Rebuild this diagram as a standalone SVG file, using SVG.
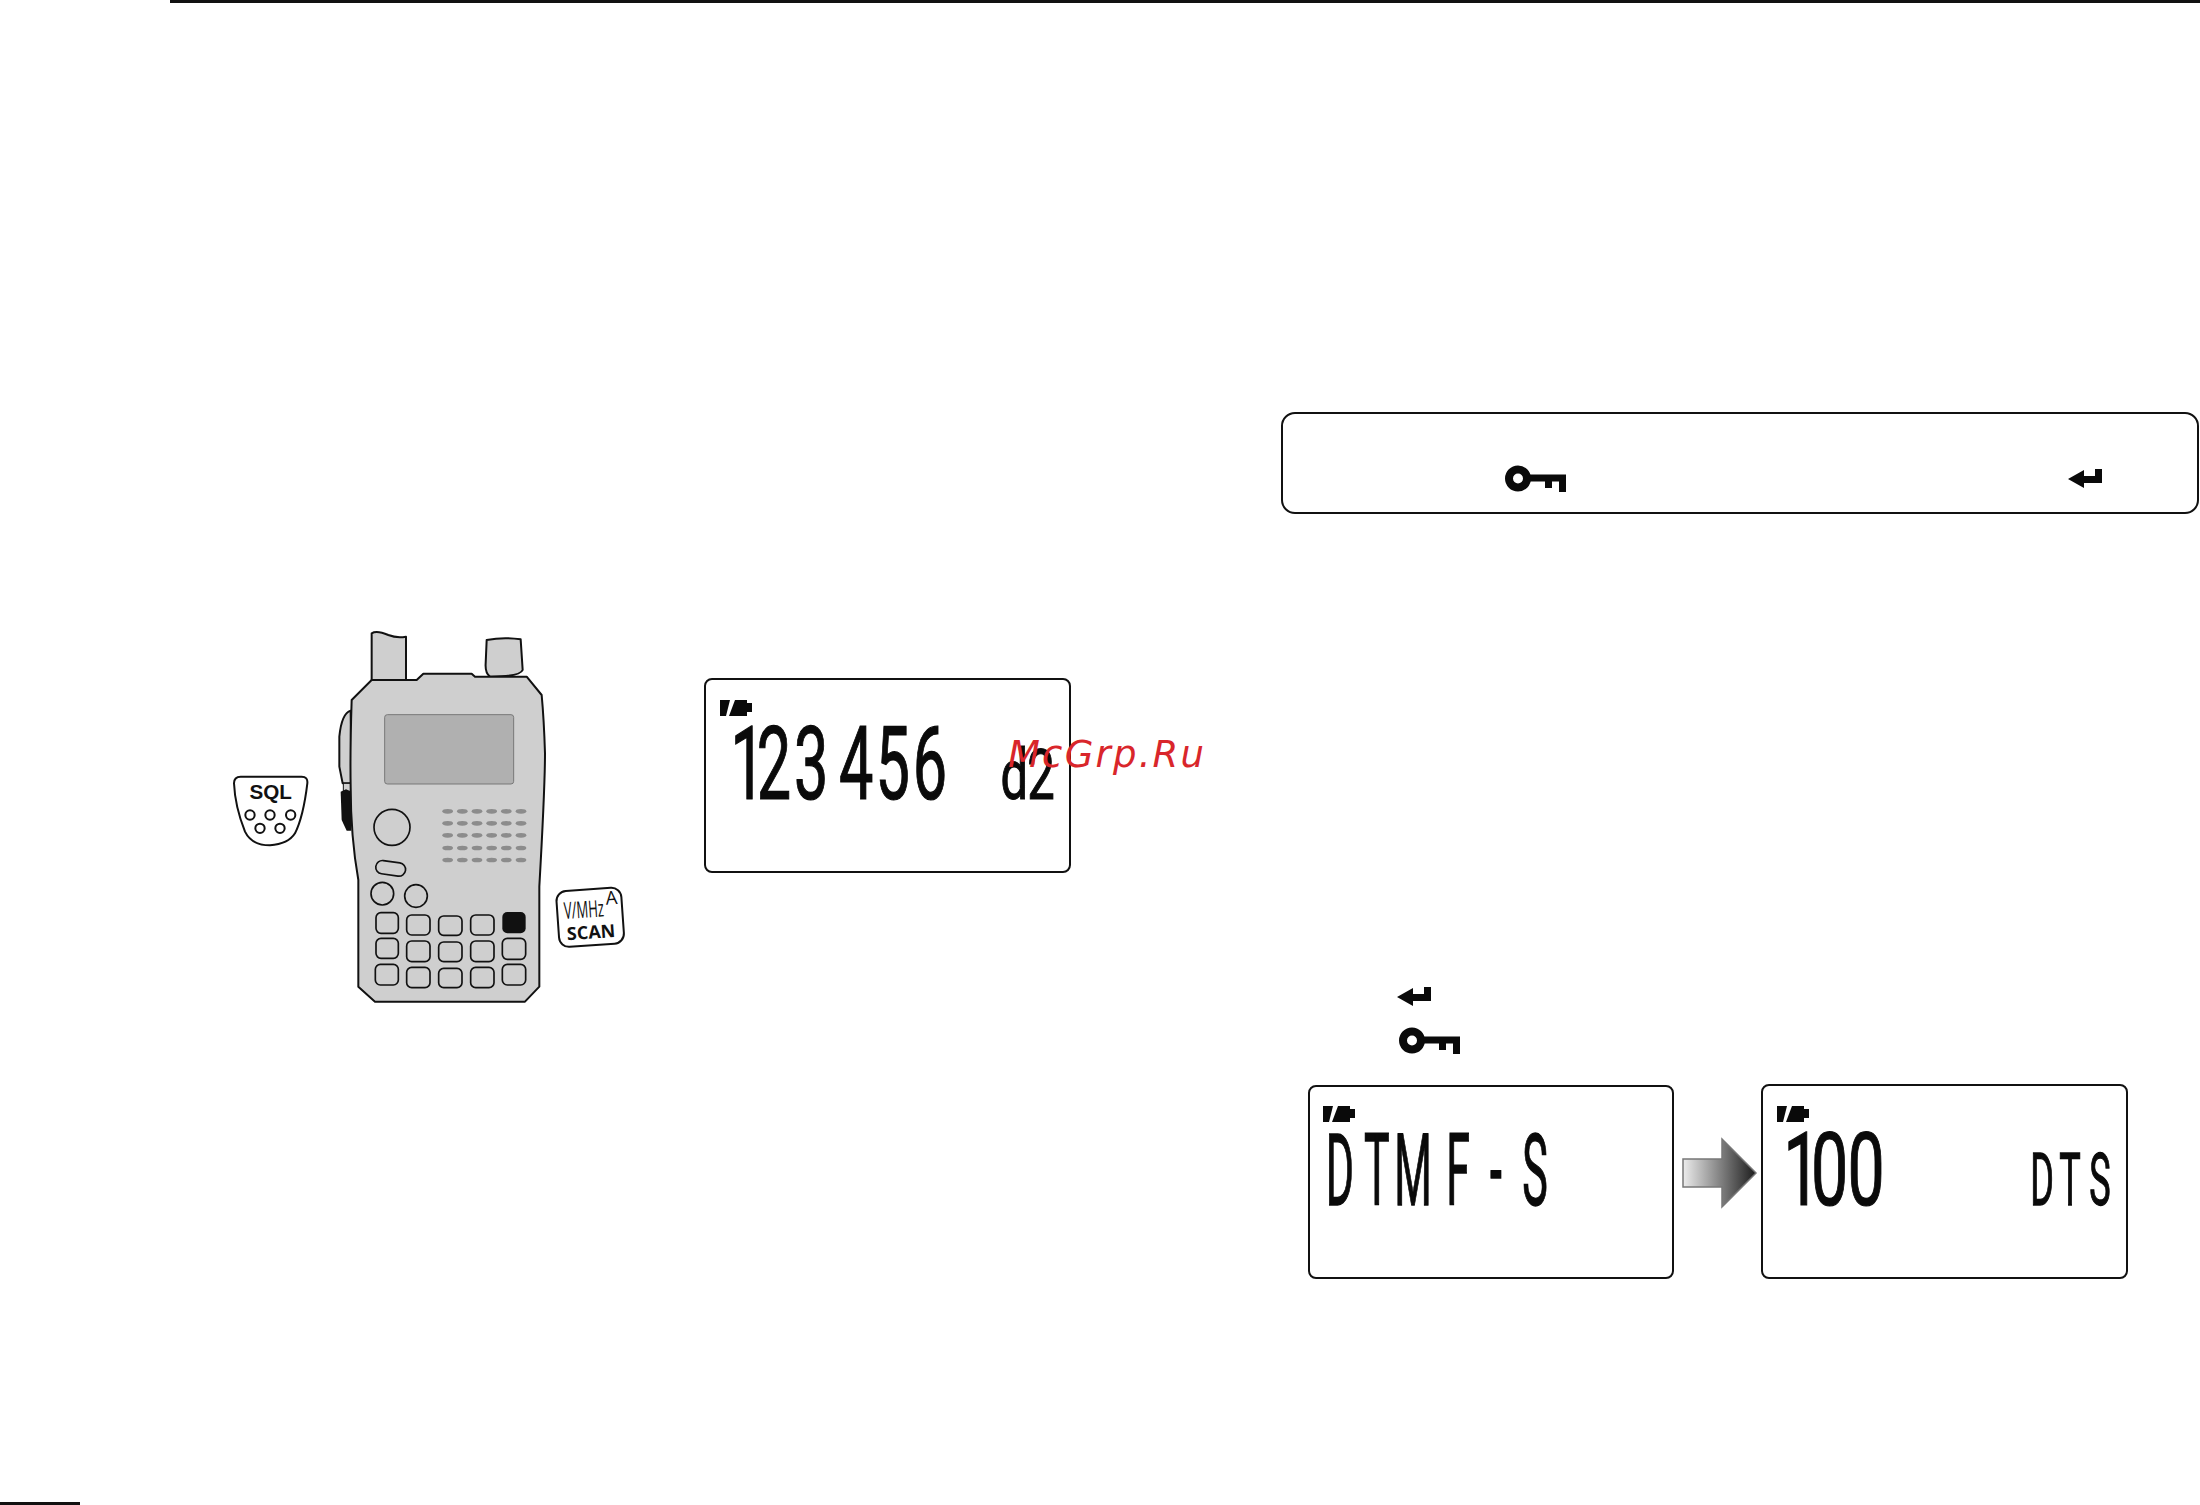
<svg xmlns="http://www.w3.org/2000/svg" width="2200" height="1505" viewBox="0 0 2200 1505">
<style>
.box{fill:#fff;stroke:#111;stroke-width:2}
.lcd{font-family:Roboto,"Liberation Sans",Arial,sans-serif;fill:#0a0a0a;stroke:#0a0a0a;stroke-width:1;vector-effect:non-scaling-stroke;text-anchor:middle}
.ln{fill:#cfcfcf;stroke:#111;stroke-width:6;stroke-linejoin:round}
.key{fill:none;stroke:#111;stroke-width:5}
.sp{fill:#8c8c8c}
.lab{font-family:"Liberation Sans",Arial,sans-serif;fill:#111}
</style>
<defs>
<g id="batt"><polygon points="0,0 10,0 6,16 0,16" fill="#0a0a0a"/><polygon points="15,0 27,0 27,3 32,3 32,12 27,12 27,16 9,16" fill="#0a0a0a"/></g>
<g id="keyicon" fill="#0a0a0a"><circle cx="13" cy="13.5" r="9" fill="none" stroke="#0a0a0a" stroke-width="8"/><rect x="22" y="9.5" width="39" height="7"/><rect x="40" y="16" width="7" height="7"/><rect x="54" y="16" width="7" height="11"/></g>
<polygon id="ret" points="0,10 16,1 16,7 27,7 27,0 34,0 34,14 16,14 16,19" fill="#0a0a0a"/>
<linearGradient id="ag" x1="0" x2="1" y1="0" y2="0"><stop offset="0" stop-color="#ececec"/><stop offset="1" stop-color="#1c1c1c"/></linearGradient>
</defs>
<rect width="2200" height="1505" fill="#fff"/>
<g id="page-rules"><rect x="170" y="0" width="2030" height="3" fill="#111"/><rect x="0" y="1502" width="80" height="3" fill="#111"/></g>

<g id="radio" transform="translate(220 620) scale(.33333)">
<path class="ln" d="M455 180V40Q470 30 505 45Q530 55 558 50V180Z"/>
<path class="ln" d="M800 60Q850 50 902 58L908 150Q900 170 810 170Q795 160 797 130Z"/>
<path class="ln" d="M392 272Q365 280 358 350V440L368 490H394Z"/>
<rect x="370" y="490" width="24" height="24" fill="#cfcfcf" stroke="#111" stroke-width="3"/>
<path d="M362 515L378 508L394 515V632H380L365 600Z" fill="#111"/>
<path class="ln" d="M455 180L395 240Q390 400 392 500Q392 650 415 780V1100L465 1145H915L958 1100V800Q975 500 975 400Q972 300 965 225L920 170H765L755 161H610L590 180Z"/>
<rect x="494" y="284" width="387" height="208" rx="8" fill="#b0b0b0" stroke="#777" stroke-width="3"/>
<g class="sp">
<ellipse cx="683" cy="574" rx="16" ry="7"/><ellipse cx="727" cy="574" rx="16" ry="7"/><ellipse cx="771" cy="574" rx="16" ry="7"/><ellipse cx="815" cy="574" rx="16" ry="7"/><ellipse cx="859" cy="574" rx="16" ry="7"/><ellipse cx="903" cy="574" rx="16" ry="7"/>
<ellipse cx="683" cy="610" rx="16" ry="7"/><ellipse cx="727" cy="610" rx="16" ry="7"/><ellipse cx="771" cy="610" rx="16" ry="7"/><ellipse cx="815" cy="610" rx="16" ry="7"/><ellipse cx="859" cy="610" rx="16" ry="7"/><ellipse cx="903" cy="610" rx="16" ry="7"/>
<ellipse cx="683" cy="646" rx="16" ry="7"/><ellipse cx="727" cy="646" rx="16" ry="7"/><ellipse cx="771" cy="646" rx="16" ry="7"/><ellipse cx="815" cy="646" rx="16" ry="7"/><ellipse cx="859" cy="646" rx="16" ry="7"/><ellipse cx="903" cy="646" rx="16" ry="7"/>
<ellipse cx="683" cy="684" rx="16" ry="7"/><ellipse cx="727" cy="684" rx="16" ry="7"/><ellipse cx="771" cy="684" rx="16" ry="7"/><ellipse cx="815" cy="684" rx="16" ry="7"/><ellipse cx="859" cy="684" rx="16" ry="7"/><ellipse cx="903" cy="684" rx="16" ry="7"/>
<ellipse cx="683" cy="720" rx="16" ry="7"/><ellipse cx="727" cy="720" rx="16" ry="7"/><ellipse cx="771" cy="720" rx="16" ry="7"/><ellipse cx="815" cy="720" rx="16" ry="7"/><ellipse cx="859" cy="720" rx="16" ry="7"/><ellipse cx="903" cy="720" rx="16" ry="7"/>
</g>
<circle class="key" cx="516" cy="622" r="54"/>
<rect class="key" x="467" y="725" width="90" height="40" rx="20" transform="rotate(8 512 745)"/>
<circle class="key" cx="487" cy="821" r="34"/><circle class="key" cx="588" cy="828" r="34"/>
<rect class="key" x="468" y="878" width="67" height="62" rx="15"/><rect class="key" x="560" y="885" width="70" height="60" rx="15"/><rect class="key" x="656" y="888" width="70" height="58" rx="15"/><rect class="key" x="752" y="885" width="70" height="60" rx="15"/><rect x="847" y="876" width="70" height="64" rx="15" fill="#111"/>
<rect class="key" x="468" y="955" width="67" height="60" rx="15"/><rect class="key" x="560" y="963" width="70" height="62" rx="15"/><rect class="key" x="656" y="966" width="70" height="59" rx="15"/><rect class="key" x="752" y="963" width="70" height="62" rx="15"/><rect class="key" x="847" y="955" width="70" height="63" rx="15"/>
<rect class="key" x="466" y="1033" width="69" height="62" rx="15"/><rect class="key" x="560" y="1042" width="70" height="61" rx="15"/><rect class="key" x="656" y="1045" width="70" height="58" rx="15"/><rect class="key" x="752" y="1042" width="70" height="61" rx="15"/><rect class="key" x="847" y="1033" width="70" height="62" rx="15"/>
</g>

<g id="sql-key" transform="translate(220 620) scale(.33333)">
<path d="M42 490Q42 470 62 470H245Q264 470 262 490Q250 590 225 640Q205 672 150 676Q95 676 75 635Q45 560 42 490Z" fill="#fff" stroke="#111" stroke-width="6"/>
<text class="lab" x="152" y="538" font-size="62" font-weight="700" text-anchor="middle">SQL</text>
<g fill="none" stroke="#111" stroke-width="6"><circle cx="90" cy="585" r="14"/><circle cx="150" cy="585" r="14"/><circle cx="212" cy="585" r="14"/><circle cx="120" cy="625" r="14"/><circle cx="180" cy="625" r="14"/></g>
</g>

<g id="scan-key" transform="translate(220 620) scale(.33333)">
<rect x="1013" y="808" width="195" height="168" rx="30" fill="#fff" stroke="#111" stroke-width="6" transform="rotate(-4 1110 890)"/>
<g transform="rotate(-4 1110 890)">
<text x="0" y="0" transform="translate(1033 892) scale(.56 1)" font-family="'Open Sans',sans-serif" font-size="70" fill="#111">V/MHz</text>
<text x="1178" y="858" font-family="'Open Sans',sans-serif" font-size="56" fill="#111" text-anchor="middle">A</text>
<text x="1110" y="956" font-family="'Open Sans',sans-serif" font-size="54" font-weight="700" fill="#111" text-anchor="middle">SCAN</text>
</g>
</g>

<g id="lcd-1">
<rect class="box" x="705" y="679" width="365" height="193" rx="7"/>
<use href="#batt" x="720" y="700"/>
<text class="lcd" transform="translate(0 799) scale(.6 1)" font-size="102" x="1246 1290 1352 1427 1488 1550" y="0">123456</text>
<text class="lcd" transform="translate(0 799) scale(.7 1)" font-size="70" x="1449 1487" y="0">d2</text>
</g>

<text id="watermark" x="1008" y="767" font-family="'DejaVu Sans',sans-serif" font-style="oblique" font-size="37" letter-spacing="2.2" fill="#d9262b">McGrp.Ru</text>

<g id="note-box">
<rect class="box" x="1282" y="413" width="916" height="100" rx="13"/>
<use href="#keyicon" x="1505" y="465"/>
<use href="#ret" x="2068" y="469"/>
</g>

<g id="icons"><use href="#ret" x="1397" y="987"/><use href="#keyicon" x="1399" y="1027"/></g>

<g id="lcd-2">
<rect class="box" x="1309" y="1086" width="364" height="192" rx="7"/>
<use href="#batt" x="1323" y="1106"/>
<text class="lcd" transform="translate(0 1205) scale(.43 1)" font-size="100" x="3116 3202 3286 3391 3479 3570" y="0">DTMF-S</text>
</g>

<g id="lcd-3">
<rect class="box" x="1762" y="1085" width="365" height="193" rx="7"/>
<use href="#batt" x="1777" y="1106"/>
<text class="lcd" transform="translate(0 1205) scale(.65 1)" font-size="102" x="2772 2815 2871" y="0">100</text>
<text class="lcd" transform="translate(0 1205) scale(.5 1)" font-size="72" x="4084 4140 4200" y="0">DTS</text>
</g>

<g id="connectors">
<polygon points="1683,1159 1722,1159 1722,1139 1756,1173 1722,1207 1722,1187 1683,1187" fill="url(#ag)" stroke="#777" stroke-width="1.5"/>
</g>
</svg>
